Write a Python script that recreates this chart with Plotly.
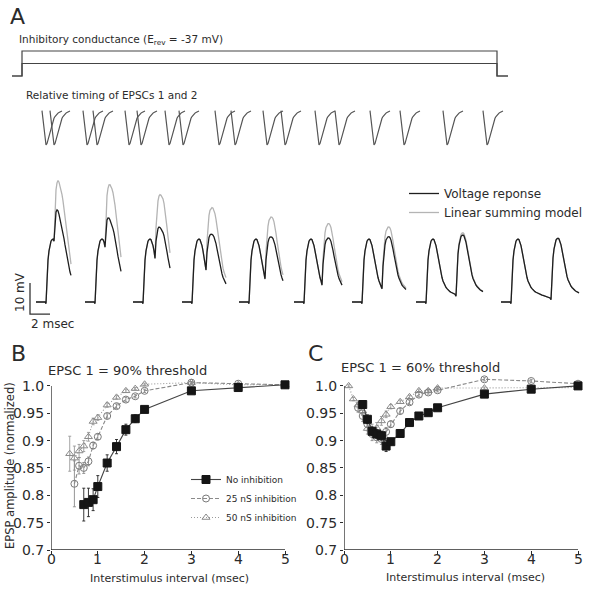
import numpy as np
import plotly.graph_objects as go

W, H = 600, 589
FONT = "DejaVu Sans"
INK = "#2b2b2b"

# ---------------- Panel B data (EPSC 1 = 90% threshold) ----------------
isi_B_none = [0.7, 0.8, 0.9, 1.0, 1.2, 1.4, 1.6, 1.8, 2.0, 3.0, 4.0, 5.0]
amp_B_none = [0.783, 0.787, 0.792, 0.816, 0.859, 0.889, 0.920, 0.940, 0.957, 0.991, 0.997, 1.002]
err_B_none = [0.030, 0.026, 0.020, 0.020, 0.015, 0.013, 0.010, 0.007, 0.005, 0.004, 0.004, 0.003]

isi_B_25 = [0.5, 0.6, 0.7, 0.8, 0.9, 1.0, 1.2, 1.4, 1.6, 1.8, 2.0, 3.0, 4.0, 5.0]
amp_B_25 = [0.821, 0.854, 0.850, 0.862, 0.891, 0.907, 0.945, 0.963, 0.975, 0.981, 0.991, 1.006, 1.004, 1.002]
err_B_25 = [0.042, 0.015, 0.010, 0.008, 0.006, 0.005, 0.004, 0.004, 0.004, 0.003, 0.003, 0.002, 0.002, 0.002]

isi_B_50 = [0.4, 0.5, 0.6, 0.7, 0.8, 0.9, 1.0, 1.2, 1.4, 1.6, 1.8, 2.0, 3.0, 4.0, 5.0]
amp_B_50 = [0.876, 0.868, 0.881, 0.890, 0.907, 0.935, 0.942, 0.965, 0.979, 0.991, 0.995, 1.003, 1.006, 1.002, 1.002]
err_B_50 = [0.032, 0.022, 0.012, 0.010, 0.008, 0.006, 0.005, 0.004, 0.003, 0.003, 0.002, 0.002, 0.002, 0.002, 0.002]

# ---------------- Panel C data (EPSC 1 = 60% threshold) ----------------
isi_C_none = [0.4, 0.5, 0.6, 0.7, 0.8, 0.9, 1.0, 1.2, 1.4, 1.6, 1.8, 2.0, 3.0, 4.0, 5.0]
amp_C_none = [0.966, 0.939, 0.917, 0.912, 0.909, 0.890, 0.898, 0.913, 0.933, 0.945, 0.951, 0.960, 0.985, 0.994, 1.000]
err_C_none = [0.006, 0.008, 0.008, 0.008, 0.008, 0.010, 0.006, 0.005, 0.004, 0.004, 0.003, 0.003, 0.003, 0.003, 0.003]

isi_C_25 = [0.3, 0.4, 0.5, 0.6, 0.7, 0.8, 0.9, 1.0, 1.2, 1.4, 1.6, 1.8, 2.0, 3.0, 4.0, 5.0]
amp_C_25 = [0.960, 0.945, 0.930, 0.912, 0.906, 0.903, 0.916, 0.930, 0.954, 0.970, 0.984, 0.988, 0.992, 1.012, 1.009, 1.004]
err_C_25 = [0.008, 0.010, 0.012, 0.012, 0.010, 0.010, 0.008, 0.006, 0.005, 0.004, 0.004, 0.003, 0.003, 0.003, 0.003, 0.003]

isi_C_50 = [0.1, 0.2, 0.3, 0.4, 0.5, 0.6, 0.7, 0.8, 0.9, 1.0, 1.2, 1.4, 1.6, 1.8, 2.0, 3.0, 4.0, 5.0]
amp_C_50 = [1.000, 0.976, 0.965, 0.954, 0.922, 0.920, 0.923, 0.936, 0.948, 0.962, 0.971, 0.980, 0.991, 0.991, 0.996, 0.996, 0.997, 0.997]
err_C_50 = [0.002, 0.003, 0.005, 0.008, 0.010, 0.010, 0.010, 0.008, 0.006, 0.004, 0.003, 0.003, 0.003, 0.003, 0.003, 0.002, 0.002, 0.002]

y_ticks = [0.7, 0.75, 0.8, 0.85, 0.9, 0.95, 1.0]
y_tick_labels = ["0.7", "0.75", "0.8", "0.85", "0.9", "0.95", "1.0"]
x_ticks = [0, 1, 2, 3, 4, 5]

# ---------------- Panel A data ----------------
cond_levels_nS = [25, 50]
cond_time_ms = [1.2, 2.2, 2.2, 49.7, 49.7, 50.8]
cond_on = [0, 0, 1, 1, 0, 0]

isi_ms = [0.8, 1.0, 1.2, 1.4, 1.6, 1.8, 2.0, 3.0, 4.0]

SAMPLE_MS = 0.1
epsc_wave = [0.0, -0.30, -0.62, -0.88, -1.0, -0.96, -0.85, -0.72, -0.59, -0.47, -0.37,
             -0.29, -0.22, -0.17, -0.13, -0.10, -0.07, -0.05, -0.035, -0.02, -0.01]

epsp_wave_mV = [-0.5, 8.0, 13.5, 16.5, 18.5, 19.6, 20.1, 20.3, 20.1, 19.4,
                18.2, 16.5, 14.6, 12.6, 10.8, 9.2, 7.9, 6.8, 5.9, 5.2,
                4.7, 4.3, 3.9, 3.6, 3.35, 3.15, 2.95, 2.8, 2.65, 2.5,
                2.35, 2.2, 2.1, 1.95, 1.85, 1.7, 1.6, 1.5, 1.4, 1.3,
                1.2, 1.15, 1.1, 1.05, 1.0, 0.95, 0.9, 0.87, 0.83, 0.8,
                0.77, 0.74, 0.71, 0.68, 0.65, 0.62, 0.6, 0.58, 0.56, 0.54,
                0.52, 0.5, 0.48, 0.46, 0.44, 0.42, 0.4, 0.38, 0.36, 0.34, 0.32]

epsp2_scale_response = [0.80, 0.88, 0.88, 0.85, 0.85, 0.86, 0.90, 0.99, 0.97]
epsp2_scale_linear = [1.33, 1.46, 1.42, 1.28, 1.17, 1.09, 1.055, 1.025, 0.97]
trace_len_ms = [2.5, 2.6, 2.7, 3.4, 3.4, 3.8, 4.4, 5.7, 6.8]
pre_ms = 1.0

scale_bar_mV = 10
scale_bar_ms = 2

# ---------------- layout constants (positions) ----------------
epsc_onset_ms = [4.2, 8.3, 12.5, 16.5, 21.5, 26.3, 31.5, 37.0, 44.3]
epsp_onset_ms = [4.6, 9.5, 14.3, 19.2, 24.9, 30.4, 36.2, 42.6, 51.1]
scale_bar_origin = (3.0, -3.9)


def py(p):
    return 1 - p / H


def px(p):
    return p / W


fig = go.Figure()

for lev in cond_levels_nS:
    fig.add_trace(go.Scatter(x=cond_time_ms, y=[lev * o for o in cond_on],
                             mode="lines", line=dict(color="#444", width=1.2),
                             xaxis="x5", yaxis="y5", showlegend=False, hoverinfo="skip"))

n_e = len(epsc_wave)
te = np.arange(n_e) * SAMPLE_MS
for g, isi in enumerate(isi_ms):
    for start in (epsc_onset_ms[g], epsc_onset_ms[g] + isi):
        fig.add_trace(go.Scatter(x=start + te, y=epsc_wave, mode="lines",
                                 line=dict(color="#555", width=1.2),
                                 xaxis="x4", yaxis="y4", showlegend=False, hoverinfo="skip"))

wave = np.array(epsp_wave_mV)


def summed(g, scale):
    n_pre = int(round(pre_ms / SAMPLE_MS))
    n_post = int(round(trace_len_ms[g] / SAMPLE_MS))
    s = int(round(isi_ms[g] / SAMPLE_MS))
    k = np.arange(-n_pre, n_post + 1)
    v = np.zeros(len(k))
    m = k >= 0
    v[m] = wave[k[m]]
    m2 = k >= s
    v[m2] += scale * wave[k[m2] - s]
    return epsp_onset_ms[g] + k * SAMPLE_MS, v


for g in range(len(isi_ms)):
    x, v = summed(g, epsp2_scale_linear[g])
    fig.add_trace(go.Scatter(x=x, y=v, mode="lines", line=dict(color="#b4b4b4", width=1.3),
                             xaxis="x3", yaxis="y3", name="Linear summing model",
                             legend="legend2", showlegend=(g == 0), hoverinfo="skip",
                             legendrank=2))
for g in range(len(isi_ms)):
    x, v = summed(g, epsp2_scale_response[g])
    fig.add_trace(go.Scatter(x=x, y=v, mode="lines", line=dict(color="#1e1e1e", width=1.3),
                             xaxis="x3", yaxis="y3", name="Voltage reponse",
                             legend="legend2", showlegend=(g == 0), hoverinfo="skip",
                             legendrank=1))

x0, y0 = scale_bar_origin
fig.add_trace(go.Scatter(x=[x0, x0, x0 + scale_bar_ms], y=[y0 + scale_bar_mV, y0, y0],
                         mode="lines", line=dict(color="#333", width=1.3),
                         xaxis="x3", yaxis="y3", showlegend=False, hoverinfo="skip"))

series_style = [
    ("No inhibition", dict(color="#444", width=1.1), dict(symbol="square", size=8, color="#151515",
                                                         line=dict(color="#151515", width=1)), "#222"),
    ("25 nS inhibition", dict(color="#8a8a8a", width=1.1, dash="4px,2px"),
     dict(symbol="circle-open", size=7, color="#7a7a7a", line=dict(width=1)), "#8a8a8a"),
    ("50 nS inhibition", dict(color="#9a9a9a", width=1.1, dash="1px,2px"),
     dict(symbol="triangle-up-open", size=7, color="#8a8a8a", line=dict(width=1)), "#9a9a9a"),
]
panel_B = [(isi_B_none, amp_B_none, err_B_none), (isi_B_25, amp_B_25, err_B_25), (isi_B_50, amp_B_50, err_B_50)]
panel_C = [(isi_C_none, amp_C_none, err_C_none), (isi_C_25, amp_C_25, err_C_25), (isi_C_50, amp_C_50, err_C_50)]

for panel, (xa, ya, show) in ((panel_B, ("x", "y", True)), (panel_C, ("x2", "y2", False))):
    for i in (2, 1, 0):
        xs, ys, es = panel[i]
        name, ln, mk, ecol = series_style[i]
        fig.add_trace(go.Scatter(x=xs, y=ys, mode="lines+markers", name=name,
                                 line=ln, marker=mk, cliponaxis=False,
                                 error_y=dict(type="data", array=es, color=ecol, thickness=0.9, width=1.5),
                                 xaxis=xa, yaxis=ya, showlegend=show, legend="legend",
                                 legendrank=i + 1, hoverinfo="skip"))

hidden = dict(visible=False, fixedrange=True, automargin=False)
axis_font = dict(family=FONT, size=14, color=INK)
ydom = [1 - 550 / H, 1 - (550 - 0.32 * 547) / H]


def xax(dom):
    return dict(domain=dom, range=[0, 5], tickvals=x_ticks, ticks="outside", ticklen=4,
                tickwidth=1, tickcolor=INK, showline=False, showgrid=False, zeroline=False,
                showticklabels=False, fixedrange=True, automargin=False)


def yax(anchor):
    return dict(domain=ydom, range=[0.7, 1.02], tickvals=y_ticks, ticktext=y_tick_labels,
                ticks="outside", ticklen=3, tickwidth=1, tickcolor=INK, showline=False,
                showgrid=False, zeroline=False, tickfont=axis_font, anchor=anchor,
                fixedrange=True, automargin=False)


shapes = []
for xr, yr in (("x", "y"), ("x2", "y2")):
    shapes.append(dict(type="line", xref=xr, yref=yr, x0=0, x1=0, y0=0.7, y1=1.0,
                       line=dict(color=INK, width=1.3)))
    shapes.append(dict(type="line", xref=xr, yref=yr, x0=0, x1=5, y0=0.7, y1=0.7,
                       line=dict(color=INK, width=1.3)))


def ann(text, x, y, size, xanchor="left", angle=0):
    return dict(text=text, x=px(x), y=py(y), xref="paper", yref="paper", showarrow=False,
                xanchor=xanchor, yanchor="middle", textangle=angle, borderpad=0,
                font=dict(family=FONT, size=size, color=INK))


annotations = [
    ann("A", 9, 16, 22),
    ann("Inhibitory conductance (E<sub>rev</sub> = -37 mV)", 18, 40, 10.5),
    ann("Relative timing of EPSCs 1 and 2", 25, 95, 10.5),
    ann("10 mV", 20, 292, 12, "center", -90),
    ann("2 msec", 30, 324, 12),
    ann("B", 10, 353, 22),
    ann("C", 307, 353, 22),
    ann("EPSC 1 = 90% threshold", 127, 371, 13, "center"),
    ann("EPSC 1 = 60% threshold", 420, 367, 13, "center"),
    ann("Interstimulus interval (msec)", 169, 578, 11, "center"),
    ann("Interstimulus interval (msec)", 465, 577, 11, "center"),
    ann("EPSP amplitude (normalized)", 10, 466, 11.5, "center", -90),
]
for xr in ("x", "x2"):
    for t in x_ticks:
        annotations.append(dict(text=str(t), x=t, xref=xr, y=py(559), yref="paper",
                                showarrow=False, xanchor="center", yanchor="middle",
                                borderpad=0, font=axis_font))

fig.update_layout(
    template="none",
    width=W, height=H, margin=dict(l=0, r=0, t=0, b=0, autoexpand=False),
    paper_bgcolor="white", plot_bgcolor="rgba(0,0,0,0)",
    font=dict(family=FONT, color=INK),
    xaxis=xax([51 / W, 285 / W]), yaxis=yax("x"),
    xaxis2=xax([344 / W, 578 / W]), yaxis2=yax("x2"),
    xaxis3=dict(domain=[0, 1], range=[0, 60], anchor="y3", **hidden),
    yaxis3=dict(domain=[1 - 320.6 / H, 1 - 171.8 / H], range=[-6, 42], anchor="x3", **hidden),
    xaxis4=dict(domain=[0, 1], range=[0, 60], anchor="y4", **hidden),
    yaxis4=dict(domain=[1 - 150.1 / H, 1 - 105.55 / H], range=[-1.15, 0.15], anchor="x4", **hidden),
    xaxis5=dict(domain=[0, 1], range=[0, 60], anchor="y5", **hidden),
    yaxis5=dict(domain=[1 - 78 / H, 1 - 49 / H], range=[-4, 54], anchor="x5", **hidden),
    legend=dict(x=px(186), y=py(465), xanchor="left", yanchor="top", bgcolor="rgba(0,0,0,0)",
                font=dict(family=FONT, size=9, color=INK), itemwidth=30, tracegroupgap=0),
    legend2=dict(x=px(404), y=py(179), xanchor="left", yanchor="top", bgcolor="rgba(0,0,0,0)",
                 font=dict(family=FONT, size=12, color=INK), itemwidth=30),
    shapes=shapes, annotations=annotations, showlegend=True,
)

fig.write_html("out.html", config={"displayModeBar": False},
               post_script="document.body.style.margin='0px';")
